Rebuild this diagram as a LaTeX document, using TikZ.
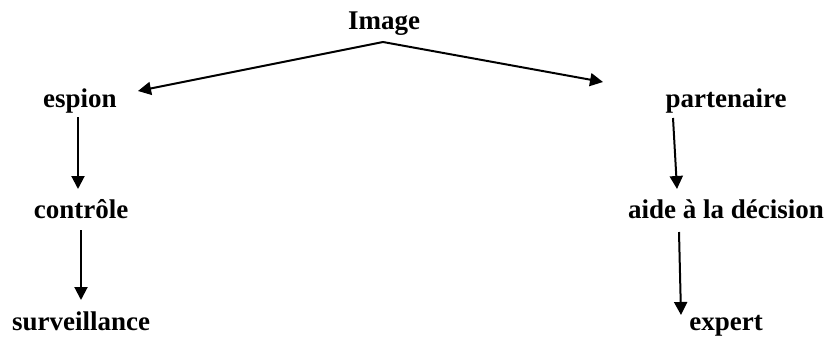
\documentclass[tikz,border=0pt]{standalone}
\usepackage{fontspec}
\setmainfont{Liberation Serif}
\usetikzlibrary{arrows.meta}

\tikzset{
    mot/.style={anchor=base, inner sep=0pt, font=\bfseries\fontsize{13.5}{16}\selectfont},
    fleche/.style={line width=1pt, -{Triangle[length=6.5pt, width=6.5pt]}}
}

\begin{document}
\begin{tikzpicture}[x=0.5pt, y=-0.5pt]

    \useasboundingbox (0,0) rectangle (828,338);

    % Racine
        \node[mot] (image) at (384,29) {Image};

    % Branche gauche
        \node[mot] (espion) at (80,107) {espion};
        \node[mot] (controle) at (81,218) {contrôle};
        \node[mot] (surveillance) at (81,330) {surveillance};

    % Branche droite
        \node[mot] (partenaire) at (726,107) {partenaire};
        \node[mot] (aide) at (726,218) {aide à la décision};
        \node[mot] (expert) at (726,330) {expert};

    % Fleches depuis Image
        \draw[fleche] ([shift={(-1,13)}]image.base) -- ([shift={(58,-16)}]espion.base);
        \draw[fleche] ([shift={(-1,13)}]image.base) -- ([shift={(-123,-25)}]partenaire.base);

    % Fleches verticales
        \draw[fleche] ([shift={(-2,10)}]espion.base) -- ([shift={(-3,-29)}]controle.base);
        \draw[fleche] ([shift={(0,12)}]controle.base) -- ([shift={(0,-30)}]surveillance.base);

        \draw[fleche] ([shift={(-53,11)}]partenaire.base) -- ([shift={(-49,-29)}]aide.base);
        \draw[fleche] ([shift={(-47,14)}]aide.base) -- ([shift={(-45,-15)}]expert.base);

\end{tikzpicture}
\end{document}
